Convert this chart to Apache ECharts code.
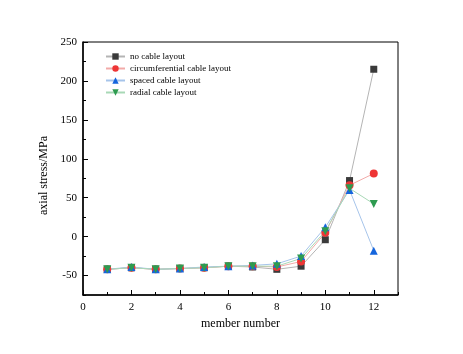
<!DOCTYPE html>
<html>
<head>
<meta charset="utf-8">
<script src="https://cdn.jsdelivr.net/npm/echarts@6/dist/echarts.min.js"></script>
<style>
	html, body { margin: 0; padding: 0; background: #fff; }
	#main { width: 463px; height: 354px; }
</style>
</head>
<body>
<div id="main"></div>
<script>
// 数据
const memberNo = [1, 2, 3, 4, 5, 6, 7, 8, 9, 10, 11, 12];
const noCable = [-42, -40, -42, -41, -40, -38, -39, -42, -38, -4, 72, 215];
const circumferential = [-42, -40, -42, -41, -40, -38, -38, -39, -32, 5, 66, 81];
const spaced = [-42, -39, -42, -41, -39, -38, -37, -35, -25, 12, 60, -18];
const radial = [-42, -40, -42, -41, -40, -38, -38, -38, -28, 7, 62, 42];

const seriesNames = ['no cable layout', 'circumferential cable layout', 'spaced cable layout', 'radial cable layout'];
const xMajor = [0, 2, 4, 6, 8, 10, 12];
const xMinor = [1, 3, 5, 7, 9, 11, 13];
const yMajor = [-50, 0, 50, 100, 150, 200, 250];
const yMinor = [-75, -25, 25, 75, 125, 175, 225];

const FONT = '"Liberation Serif", "DejaVu Serif", serif';

function pairs(values) {
	return memberNo.map((x, i) => [x, values[i]]);
}

function makeSeries(name, values, color, lineColor, symbol, size, rotate) {
	return {
		name: name,
		type: 'line',
		xAxisIndex: 0,
		yAxisIndex: 0,
		data: pairs(values),
		symbol: symbol,
		symbolSize: size,
		symbolRotate: rotate || 0,
		itemStyle: { color: color },
		lineStyle: { color: lineColor, width: 1 },
		emphasis: { disabled: true },
		animation: false
	};
}

const axisLine = { show: true, onZero: false, lineStyle: { color: '#000', width: 1.5 } };

const chart = echarts.init(document.getElementById('main'));
chart.setOption({
	animation: false,
	grid: {
		left: 83, right: 65, top: 42, bottom: 59,
		show: true, borderColor: '#000', borderWidth: 1
	},
	legend: {
		orient: 'vertical',
		left: 100,
		top: 47,
		itemWidth: 19,
		itemHeight: 8,
		itemGap: 3,
		data: seriesNames,
		textStyle: { fontFamily: FONT, fontSize: 9, color: '#000' }
	},
	xAxis: [{
		type: 'value',
		min: 0, max: 13,
		name: 'member number',
		nameLocation: 'middle',
		nameGap: 22,
		nameTextStyle: { fontFamily: FONT, fontSize: 12, color: '#000' },
		axisLine: axisLine,
		axisTick: { show: true, inside: true, length: 5, customValues: xMajor, lineStyle: { color: '#000' } },
		axisLabel: { customValues: xMajor, fontFamily: FONT, fontSize: 11, color: '#000', margin: 7 },
		splitLine: { show: false }
	}, {
		type: 'value',
		position: 'bottom',
		min: 0, max: 13,
		axisLine: { show: false, onZero: false },
		axisTick: { show: true, inside: true, length: 3, customValues: xMinor, lineStyle: { color: '#000' } },
		axisLabel: { show: false },
		splitLine: { show: false }
	}],
	yAxis: [{
		type: 'value',
		min: -75, max: 250,
		name: 'axial stress/MPa',
		nameLocation: 'middle',
		nameGap: 30,
		nameTextStyle: { fontFamily: FONT, fontSize: 12, color: '#000', padding: [0, 0, 0, -14] },
		axisLine: axisLine,
		axisTick: { show: true, inside: true, length: 5, customValues: yMajor, lineStyle: { color: '#000' } },
		axisLabel: { customValues: yMajor, fontFamily: FONT, fontSize: 11, color: '#000', margin: 6 },
		splitLine: { show: false }
	}, {
		type: 'value',
		position: 'left',
		min: -75, max: 250,
		axisLine: { show: false, onZero: false },
		axisTick: { show: true, inside: true, length: 3, customValues: yMinor, lineStyle: { color: '#000' } },
		axisLabel: { show: false },
		splitLine: { show: false }
	}],
	series: [
		makeSeries(seriesNames[0], noCable, '#3a3a3a', '#b4b4b4', 'rect', 7),
		makeSeries(seriesNames[1], circumferential, '#ee3535', '#f2aaa8', 'circle', 8),
		makeSeries(seriesNames[2], spaced, '#1565dd', '#a6c4ea', 'triangle', 8),
		makeSeries(seriesNames[3], radial, '#2e9b50', '#a8d8b6', 'triangle', 8, 180)
	]
});
</script>
</body>
</html>
